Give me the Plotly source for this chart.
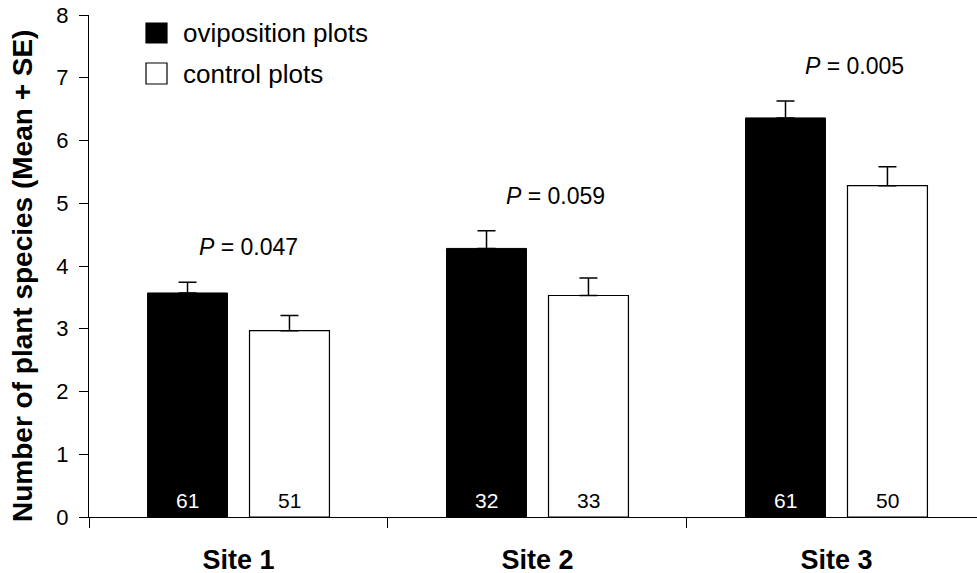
import plotly.graph_objects as go

sites = ["Site 1", "Site 2", "Site 3"]
ovi_mean = [3.57, 4.28, 6.36]
ovi_se = [0.17, 0.28, 0.27]
ctrl_mean = [2.97, 3.53, 5.28]
ctrl_se = [0.24, 0.28, 0.30]
ovi_n = [61, 32, 61]
ctrl_n = [51, 33, 50]
p_values = ["0.047", "0.059", "0.005"]
y_ticks = [0, 1, 2, 3, 4, 5, 6, 7, 8]
series_names = ["oviposition plots", "control plots"]

FONT = "Arial, Liberation Sans, sans-serif"
W, H = 977, 573
L, R, T, B = 89, 0, 15, 56
pw, ph = W - L - R, H - T - B

def px_x(p):
    return (p - L) / pw

def px_y(p):
    return (H - B - p) / ph

fig = go.Figure()
fig.add_trace(go.Bar(
    x=sites, y=ovi_mean, name=series_names[0],
    marker=dict(color="black", line=dict(color="black", width=1)),
    error_y=dict(type="data", array=ovi_se, arrayminus=[0]*3, symmetric=False,
                 color="black", thickness=1.5, width=9),
    showlegend=False,
))
fig.add_trace(go.Bar(
    x=sites, y=ctrl_mean, name=series_names[1],
    marker=dict(color="white", line=dict(color="black", width=1.2)),
    error_y=dict(type="data", array=ctrl_se, arrayminus=[0]*3, symmetric=False,
                 color="black", thickness=1.5, width=9),
    showlegend=False,
))

ann = []
off = 51
for i, s in enumerate(sites):
    ann.append(dict(x=s, y=0, xref="x", yref="y", text=str(ovi_n[i]), showarrow=False,
                    xshift=-off, yanchor="bottom", yshift=3,
                    font=dict(family=FONT, size=21, color="white")))
    ann.append(dict(x=s, y=0, xref="x", yref="y", text=str(ctrl_n[i]), showarrow=False,
                    xshift=off, yanchor="bottom", yshift=3,
                    font=dict(family=FONT, size=21, color="black")))
p_xshift = [10, 18, 18]
for i, s in enumerate(sites):
    top = max(ovi_mean[i] + ovi_se[i], ctrl_mean[i] + ctrl_se[i])
    ann.append(dict(x=s, y=top + 0.56, xref="x", yref="y",
                    text="<i>P</i> = " + p_values[i], showarrow=False,
                    xshift=p_xshift[i], yanchor="middle",
                    font=dict(family=FONT, size=23, color="black")))

# y-axis title
ann.append(dict(x=px_x(22), y=px_y(276), xref="paper", yref="paper",
                text="<b>Number of plant species (Mean + SE)</b>", textangle=-90,
                showarrow=False, xanchor="center", yanchor="middle",
                font=dict(family=FONT, size=28, color="black")))

# legend
shapes = []
leg_rows = [(23, 43, "black"), (63, 84, "white")]
for (y0, y1, col), name in zip(leg_rows, series_names):
    shapes.append(dict(type="rect", xref="paper", yref="paper",
                       x0=px_x(146), x1=px_x(167), y0=px_y(y1), y1=px_y(y0),
                       fillcolor=col, line=dict(color="black", width=1.2)))
    ann.append(dict(x=px_x(181), y=px_y((y0 + y1) / 2), xref="paper", yref="paper",
                    text=name, showarrow=False, xanchor="left", yanchor="middle",
                    font=dict(family=FONT, size=26, color="black")))

fig.update_layout(
    template="none",
    width=W, height=H,
    margin=dict(l=L, r=R, t=T, b=B, pad=0),
    paper_bgcolor="white", plot_bgcolor="white",
    barmode="group", bargap=0.318, bargroupgap=0.216,
    annotations=ann, shapes=shapes,
    xaxis=dict(automargin=False, range=[-0.5, 2.47], tickson="boundaries",
               ticks="outside", ticklen=10,
               tickwidth=1.2, tickcolor="black", showline=True, linecolor="black",
               linewidth=1.2, showgrid=False, zeroline=False, ticklabelstandoff=18,
               tickfont=dict(family=FONT, size=27, color="black"),
               tickvals=sites, ticktext=["<b>" + s + "</b>" for s in sites]),
    yaxis=dict(automargin=False, range=[0, 8], tickvals=y_ticks, ticks="outside",
               ticklen=9, tickwidth=1.2, tickcolor="black", showline=True,
               linecolor="black", linewidth=1.2, showgrid=False, zeroline=False,
               ticklabelstandoff=6,
               tickfont=dict(family=FONT, size=22, color="black")),
    font=dict(family=FONT, color="black"),
)

fig.write_html("out.html", config={"displayModeBar": False},
               post_script="document.body.style.margin='0';document.body.style.padding='0';")
